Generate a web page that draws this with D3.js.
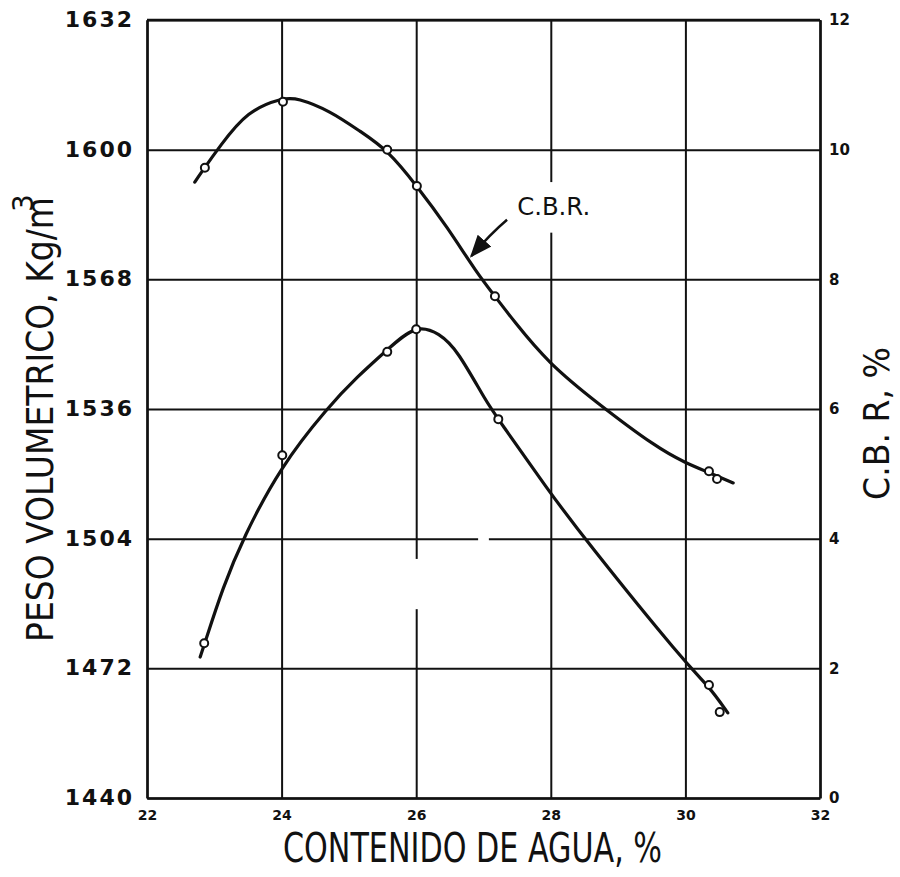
<!DOCTYPE html>
<html>
<head>
<meta charset="utf-8">
<script src="https://cdn.jsdelivr.net/npm/d3@7"></script>
<style>
  body { margin: 0; background: #fff; }
  svg { display: block; }
  .axis path, .axis line { stroke: #111; }
  .axis text { fill: #111; font-family: "DejaVu Sans", sans-serif; font-weight: bold; }
</style>
</head>
<body>
<svg width="900" height="877"></svg>
<script>
// ticks
var xTicks = [22, 24, 26, 28, 30, 32];
var pesoTicks = [1440, 1472, 1504, 1536, 1568, 1600, 1632];
var cbrTicks = [0, 2, 4, 6, 8, 10, 12];

// peso volumetrico: measured points and the hand drawn curve
var pesoX = [22.85, 24.01, 25.57, 26.00, 27.22, 30.35, 30.51];
var pesoY = [1478.2, 1524.6, 1550.1, 1555.7, 1533.5, 1467.9, 1461.2];
var pesoCurveX = [22.79, 22.85, 23.13, 23.43, 23.98, 24.69, 25.12, 25.57, 26.00, 26.35, 26.61, 27.05, 27.22, 27.96, 28.48, 30.02, 30.35, 30.63];
var pesoCurveY = [1474.8, 1477.8, 1492.1, 1504.2, 1521.7, 1536.5, 1543.9, 1550.6, 1557.0, 1554.6, 1550.6, 1537.5, 1533.5, 1516.0, 1504.4, 1472.8, 1467.6, 1461.0];

// C.B.R.: measured points and the curve
var cbrX = [22.86, 24.02, 25.57, 26.01, 27.17, 30.35, 30.47];
var cbrY = [9.72, 10.74, 10.00, 9.44, 7.74, 5.04, 4.92];
var cbrCurveX = [22.71, 22.80, 23.08, 23.49, 24.02, 24.23, 24.72, 25.17, 25.57, 26.01, 26.46, 26.90, 27.17, 27.44, 27.96, 28.69, 29.58, 30.00, 30.35, 30.71];
var cbrCurveY = [9.50, 9.64, 10.05, 10.60, 10.80, 10.80, 10.60, 10.28, 10.00, 9.44, 8.81, 8.10, 7.74, 7.37, 6.71, 6.09, 5.40, 5.17, 5.02, 4.86];

var svg = d3.select("svg");
var margin = { left: 147, top: 20, right: 80, bottom: 79 };
var W = 900 - margin.left - margin.right;
var H = 877 - margin.top - margin.bottom;

var x = d3.scaleLinear().domain([22, 32]).range([0, W]);
var yL = d3.scaleLinear().domain([1440, 1632]).range([H, 0]);
var yR = d3.scaleLinear().domain([0, 12]).range([H, 0]);

var g = svg.append("g").attr("transform", "translate(" + margin.left + "," + margin.top + ")");

// grid + left labels
var left = g.append("g").attr("class", "axis")
    .call(d3.axisLeft(yL).tickValues(pesoTicks).tickSize(-W).tickSizeOuter(0).tickPadding(13).tickFormat(d3.format("d")));
left.selectAll("line").attr("stroke-width", 2);
left.select(".domain").attr("stroke-width", 2.5);
left.selectAll("text").attr("font-size", 22).attr("letter-spacing", 2).attr("dy", "0.3em");

var bottom = g.append("g").attr("class", "axis").attr("transform", "translate(0," + H + ")")
    .call(d3.axisBottom(x).tickValues(xTicks).tickSize(-H).tickSizeOuter(0).tickPadding(12));
bottom.selectAll("line").attr("stroke-width", 2);
bottom.select(".domain").attr("stroke-width", 2.5);
bottom.selectAll("text").attr("font-size", 14);

var right = g.append("g").attr("class", "axis").attr("transform", "translate(" + W + ",0)")
    .call(d3.axisRight(yR).tickValues(cbrTicks).tickSize(0).tickSizeOuter(0).tickPadding(9));
right.select(".domain").attr("stroke-width", 2.5);
right.selectAll("text").attr("font-size", 15);

// top border
g.append("line").attr("x1", 0).attr("x2", W).attr("y1", 0).attr("y2", 0)
    .attr("stroke", "#111").attr("stroke-width", 2.5);

// small breaks in the printed grid
var gaps = [[25.93, 26.07, 1499, 1486.6], [26.92, 27.08, 1505.5, 1502.5]];
g.selectAll(".gap").data(gaps).enter().append("rect")
    .attr("x", function (d) { return x(d[0]); })
    .attr("width", function (d) { return x(d[1]) - x(d[0]); })
    .attr("y", function (d) { return yL(d[2]); })
    .attr("height", function (d) { return yL(d[3]) - yL(d[2]); })
    .attr("fill", "#fff");

// curves
var line = d3.line().curve(d3.curveBasis);
var pesoPts = pesoCurveX.map(function (v, i) { return [x(v), yL(pesoCurveY[i])]; });
var cbrPts = cbrCurveX.map(function (v, i) { return [x(v), yR(cbrCurveY[i])]; });

g.append("path").attr("d", line(pesoPts)).attr("fill", "none")
    .attr("stroke", "#111").attr("stroke-width", 3.2).attr("stroke-linecap", "round");
g.append("path").attr("d", line(cbrPts)).attr("fill", "none")
    .attr("stroke", "#111").attr("stroke-width", 3.2).attr("stroke-linecap", "round");

// markers
g.selectAll(".pp").data(pesoX).enter().append("circle")
    .attr("cx", function (d) { return x(d); })
    .attr("cy", function (d, i) { return yL(pesoY[i]); })
    .attr("r", 4).attr("fill", "#fff").attr("stroke", "#111").attr("stroke-width", 2);
g.selectAll(".cp").data(cbrX).enter().append("circle")
    .attr("cx", function (d) { return x(d); })
    .attr("cy", function (d, i) { return yR(cbrY[i]); })
    .attr("r", 4).attr("fill", "#fff").attr("stroke", "#111").attr("stroke-width", 2);

// C.B.R. label with arrow
g.append("rect").attr("x", x(27.45)).attr("y", yR(9.5))
    .attr("width", x(28.6) - x(27.45)).attr("height", yR(8.72) - yR(9.5)).attr("fill", "#fff");
g.append("text").attr("x", x(27.5)).attr("y", yR(8.99))
    .attr("font-family", "DejaVu Sans, sans-serif").attr("font-size", 24)
    .attr("textLength", 73).attr("lengthAdjust", "spacingAndGlyphs").attr("fill", "#111")
    .text("C.B.R.");

svg.append("defs").append("marker").attr("id", "ah")
    .attr("viewBox", "0 0 10 10").attr("refX", 9).attr("refY", 5)
    .attr("markerWidth", 9).attr("markerHeight", 9).attr("orient", "auto")
    .append("path").attr("d", "M0,1L10,5L0,9Z").attr("fill", "#111");
var a0 = [x(27.35), yR(8.92)], a1 = [x(26.82), yR(8.36)];
g.append("path")
    .attr("d", "M" + a0 + "Q" + [x(27.1), yR(8.7)] + " " + a1)
    .attr("fill", "none").attr("stroke", "#111").attr("stroke-width", 2.5)
    .attr("marker-end", "url(#ah)");

// axis titles
svg.append("text").attr("x", 283).attr("y", 862)
    .attr("font-family", "DejaVu Sans, sans-serif").attr("font-size", 40)
    .attr("textLength", 379).attr("lengthAdjust", "spacingAndGlyphs").attr("fill", "#111")
    .text("CONTENIDO DE AGUA, %");

var lt = svg.append("g").attr("transform", "translate(53,642) rotate(-90)");
lt.append("text").attr("x", 0).attr("y", 0)
    .attr("font-family", "DejaVu Sans, sans-serif").attr("font-size", 37)
    .attr("textLength", 445).attr("lengthAdjust", "spacingAndGlyphs").attr("fill", "#111")
    .text("PESO VOLUMETRICO, Kg/m");
lt.append("text").attr("x", 430).attr("y", -20)
    .attr("font-family", "DejaVu Sans, sans-serif").attr("font-size", 28).attr("fill", "#111")
    .text("3");

var rt = svg.append("g").attr("transform", "translate(889,500) rotate(-90)");
rt.append("text").attr("x", 0).attr("y", 0)
    .attr("font-family", "DejaVu Sans, sans-serif").attr("font-size", 36)
    .attr("textLength", 153).attr("lengthAdjust", "spacingAndGlyphs").attr("fill", "#111")
    .text("C.B. R, %");
</script>
</body>
</html>
